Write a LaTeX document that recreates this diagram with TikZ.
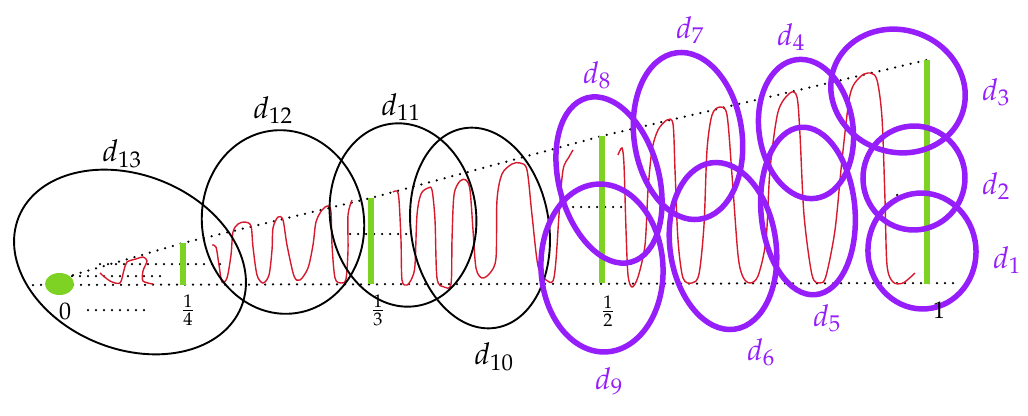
\documentclass[tikz,border=0pt]{standalone}
\usepackage{mathpazo}
\definecolor{vio}{RGB}{150,30,250}
\definecolor{lgreen}{RGB}{125,210,35}
\definecolor{wred}{RGB}{215,25,45}
\begin{document}
\begin{tikzpicture}[x=1pt,y=-1pt,
  dots/.style={line width=2.5pt,line cap=round,dash pattern=on 0pt off 8pt},
  bar/.style={lgreen,line width=6pt},
  bell/.style={line width=1.9pt},
  pell/.style={vio,line width=5.5pt},
  wave/.style={wred,line width=1.4pt,smooth,tension=0.5},
  lab/.style={font=\fontsize{30}{33}\selectfont, inner sep=0pt},
  plab/.style={lab,text=vio},
  num/.style={font=\fontsize{24}{27}\selectfont, inner sep=0pt}]
\useasboundingbox (0,0) rectangle (1028,415);
% key points
\coordinate (o) at (59.5,284);
\coordinate (os) at (73,275);
\coordinate (t4) at (183,243); \coordinate (b4) at (183,285);
\coordinate (t3) at (371,198); \coordinate (b3) at (371,284);
\coordinate (t2) at (602,136); \coordinate (b2) at (602,283);
\coordinate (t1) at (927,60);  \coordinate (b1) at (927,284);
\coordinate (bl) at (33,285); \coordinate (br) at (958,283);
% dotted lines
\draw[dots] (bl) -- (br);
\draw[dots] (os) -- (t4) -- (t3) -- (t2) -- (t1);
\coordinate (m4a) at (100,264); \coordinate (m4b) at (220,264);
\coordinate (m4c) at (72,276); \coordinate (m4d) at (162,276);
\draw[dots] (m4a) -- (m4b);
\draw[dots] (m4c) -- (m4d);
\coordinate (m3a) at (350,234); \coordinate (m3b) at (410,234);
\draw[dots] (m3a) -- (m3b);
\coordinate (m2a) at (573,207); \coordinate (m2b) at (627,207);
\draw[dots] (m2a) -- (m2b);
\coordinate (m1a) at (897,195); \coordinate (m1b) at (912,195);
\draw[dots] (m1a) -- (m1b);
\coordinate (za) at (88,310); \coordinate (zb) at (148,310);
\draw[dots] (za) -- (zb);
% red wave
\draw[wave] plot coordinates {(100,273) (110,281) (120,283) (124,270) (127,262) (136,259) (143,257) (147,261) (143,271) (143,281) (153,284)};
\draw[wave] plot coordinates {(212,245) (216,247) (219,265) (222,282) (227,278) (231,255) (233,232) (238,224) (245,222) (251,226) (253,247) (257,275) (263,283) (269,275) (272,250) (273,228) (278,217) (283,220) (287,245) (294,276) (300,280) (308,268) (313,245) (316,222) (322,210) (328,206) (331,212) (332,245) (335,278) (341,283) (346,279) (348,250) (348,215) (352,200)};
\draw[wave] plot coordinates {(393,192) (397,191) (399,200) (401,240) (402,280) (407,285) (412,278) (415,265) (417,215) (421,194) (428,188) (432,190) (435,220) (437,278) (444,287) (451,284) (452,240) (454,195) (460,181) (466,180) (470,190) (473,230) (476,268) (482,278) (490,273) (496,258) (497,200) (502,174) (512,164) (520,163) (527,170) (532,215) (538,266) (546,280) (553,281) (556,260) (559,215) (563,170) (569,157) (573,150)};
\draw[wave] plot coordinates {(618,155) (622,148) (624,165) (626,230) (628,275) (632,287) (638,277) (645,245) (648,190) (652,150) (658,130) (667,120) (673,124) (675,170) (678,240) (683,278) (692,283) (699,274) (704,225) (707,150) (712,115) (720,107) (727,115) (732,175) (738,255) (743,277) (750,283) (758,276) (766,240) (770,170) (778,112) (790,93) (797,97) (800,135) (804,215) (812,275) (820,283) (826,276) (835,230) (842,160) (850,95) (860,77) (870,73) (877,80) (882,118) (885,200) (887,265) (893,282) (903,283) (915,273)};
% green
\fill[lgreen] (o) ellipse [x radius=14.5pt, y radius=11pt];
\draw[bar] (t4) -- (b4);
\draw[bar] (t3) -- (b3);
\draw[bar] (t2) -- (b2);
\draw[bar] (t1) -- (b1);
% black ellipses
\coordinate (e13) at (130,262);
\coordinate (e12) at (283,222);
\coordinate (e11) at (403,215);
\coordinate (e10) at (480,228);
\draw[bell, rotate around={-22:(e13)}] (e13) ellipse [x radius=120pt, y radius=87pt];
\draw[bell, rotate around={8:(e12)}] (e12) ellipse [x radius=81pt, y radius=92pt];
\draw[bell, rotate around={8:(e11)}] (e11) ellipse [x radius=73pt, y radius=92pt];
\draw[bell, rotate around={9:(e10)}] (e10) ellipse [x radius=69pt, y radius=101pt];
% purple ellipses
\coordinate (c8) at (609,180);
\coordinate (c9) at (602,268);
\coordinate (c7) at (688,136);
\coordinate (c6) at (723,246);
\coordinate (c4) at (806,129);
\coordinate (c5) at (808,211);
\coordinate (c3) at (898,91);
\coordinate (c2) at (914,178);
\coordinate (c1) at (922,251);
\draw[pell, rotate around={15:(c8)}] (c8) ellipse [x radius=50pt, y radius=85pt];
\draw[pell, rotate around={3:(c9)}] (c9) ellipse [x radius=61pt, y radius=84pt];
\draw[pell, rotate around={8:(c7)}] (c7) ellipse [x radius=54pt, y radius=84pt];
\draw[pell, rotate around={8:(c6)}] (c6) ellipse [x radius=53pt, y radius=84pt];
\draw[pell, rotate around={8:(c4)}] (c4) ellipse [x radius=47pt, y radius=70pt];
\draw[pell, rotate around={5:(c5)}] (c5) ellipse [x radius=47pt, y radius=84pt];
\draw[pell, rotate around={-20:(c3)}] (c3) ellipse [x radius=68pt, y radius=61pt];
\draw[pell, rotate around={-5:(c2)}] (c2) ellipse [x radius=51pt, y radius=52pt];
\draw[pell, rotate around={5:(c1)}] (c1) ellipse [x radius=54pt, y radius=58pt];
% labels
\node[lab] (l13) at (122,154) {$d_{13}$};
\node[lab] (l12) at (273,110) {$d_{12}$};
\node[lab] (l11) at (401,107) {$d_{11}$};
\node[lab] (l10) at (494,357) {$d_{10}$};
\node[plab] (l9) at (609,381) {$d_{9}$};
\node[plab] (l8) at (597,75) {$d_{8}$};
\node[plab] (l7) at (690,30) {$d_{7}$};
\node[plab] (l6) at (761,352) {$d_{6}$};
\node[plab] (l5) at (827,318) {$d_{5}$};
\node[plab] (l4) at (791,37) {$d_{4}$};
\node[plab] (l3) at (996,92) {$d_{3}$};
\node[plab] (l2) at (996,186) {$d_{2}$};
\node[plab] (l1) at (1007,260) {$d_{1}$};
\node[num] (n0) at (65,311) {$0$};
\node[num] (n4) at (188,310) {$\frac{1}{4}$};
\node[num] (n3) at (378,310) {$\frac{1}{3}$};
\node[num] (n2) at (608,311) {$\frac{1}{2}$};
\node[num] (n1) at (939,310) {$1$};
\end{tikzpicture}
\end{document}
